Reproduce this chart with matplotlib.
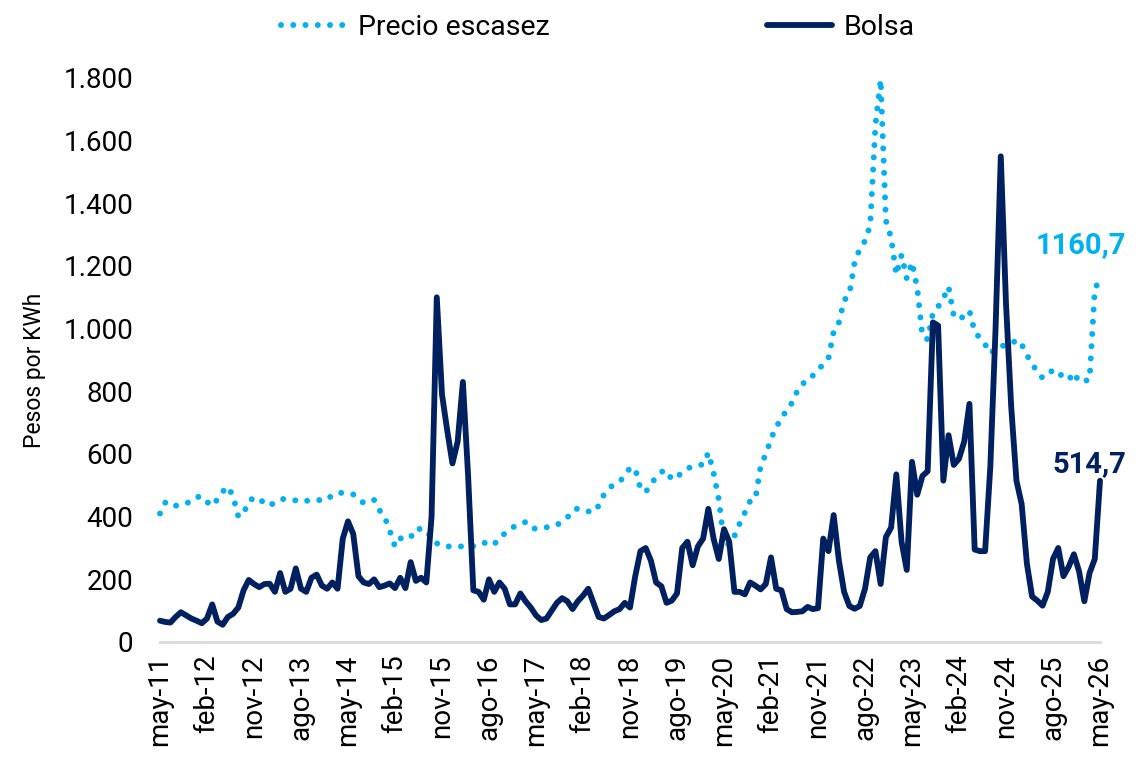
import numpy as np
import matplotlib.pyplot as plt
from matplotlib.ticker import FuncFormatter

# monthly series, may-11 .. may-26 (181 months)
start_year, start_month = 2011, 5
n_months = 181

escasez = [
    410, 445, 432, 435, 437, 443, 448, 462, 465, 447,
    434, 455, 480, 496, 465, 400, 410, 450, 460, 460,
    440, 435, 446, 455, 457, 453, 452, 447, 450, 454,
    453, 453, 453, 470, 476, 476, 474, 471, 460, 443,
    448, 453, 421, 400, 355, 305, 330, 338, 334, 362,
    360, 358, 330, 315, 306, 305, 305, 305, 305, 305,
    306, 306, 315, 323, 314, 325, 347, 360, 370, 376,
    383, 365, 361, 363, 366, 369, 373, 385, 397, 420,
    426, 420, 417, 414, 435, 470, 490, 505, 512, 530,
    556, 553, 490, 478, 505, 525, 543, 548, 518, 528,
    540, 554, 560, 565, 566, 604, 540, 455, 320, 310,
    338, 378, 413, 450, 456, 560, 600, 647, 690, 707,
    745, 762, 800, 825, 830, 850, 870, 885, 905, 990,
    1020, 1090, 1110, 1210, 1255, 1280, 1330, 1650, 1795, 1345,
    1290, 1172, 1235, 1160, 1212, 1130, 975, 966, 1050, 1070,
    1096, 1134, 1040, 1030, 1040, 1057, 990, 970, 950, 921,
    935, 945, 946, 950, 965, 950, 915, 890, 860, 843,
    850, 870, 860, 845, 836, 860, 830, 833, 837, 1125,
    1160.7,
]

bolsa = [
    68, 64, 62, 80, 95, 85, 75, 68, 60, 75,
    120, 65, 55, 80, 90, 110, 165, 198, 185, 175,
    185, 186, 160, 220, 160, 170, 235, 170, 160, 205,
    215, 180, 170, 190, 170, 330, 385, 345, 210, 190,
    185, 200, 175, 180, 187, 172, 205, 172, 255, 195,
    205, 190, 400, 1100, 790, 675, 570, 640, 830, 530,
    165, 160, 135, 200, 160, 190, 170, 120, 120, 155,
    130, 110, 85, 70, 75, 100, 125, 140, 130, 105,
    130, 148, 170, 125, 80, 75, 86, 98, 105, 125,
    110, 210, 290, 300, 260, 190, 178, 125, 132, 155,
    300, 320, 245, 305, 330, 425, 330, 265, 360, 320,
    160, 160, 152, 190, 180, 168, 185, 270, 170, 165,
    105, 95, 96, 98, 112, 105, 108, 330, 290, 405,
    260, 160, 115, 106, 115, 170, 270, 290, 185, 335,
    365, 535, 320, 230, 575, 470, 530, 545, 1020, 1010,
    515, 660, 565, 585, 640, 760, 295, 290, 290, 560,
    1000, 1550, 1080, 750, 515, 440, 250, 145, 132, 116,
    160, 265, 300, 210, 240, 280, 225, 130, 220, 265,
    514.7,
]

mes_abbr = ['ene', 'feb', 'mar', 'abr', 'may', 'jun',
            'jul', 'ago', 'sep', 'oct', 'nov', 'dic']

color_escasez = '#00B0F0'
color_bolsa = '#002060'

plt.rcParams['font.family'] = ['Roboto', 'DejaVu Sans']

x = np.arange(n_months)

fig = plt.figure(figsize=(11.47, 7.57), dpi=100)
ax = fig.add_axes([160 / 1147, 1 - 642 / 757, 940 / 1147, (642 - 78) / 757])

ax.plot(x, escasez, color=color_escasez, lw=4.3,
        linestyle=(0, (0.001, 2.05)), dash_capstyle='round',
        label='Precio escasez', clip_on=False)
ax.plot(x, bolsa, color=color_bolsa, lw=4.2,
        solid_joinstyle='round', solid_capstyle='round',
        label='Bolsa', clip_on=False)

# last values
ax.text(x[-1] + 5, escasez[-1] + 107, '1160,7', color=color_escasez,
        fontsize=21, fontweight='bold', ha='right', va='center')
ax.text(x[-1] + 5, bolsa[-1] + 52, '514,7', color=color_bolsa,
        fontsize=21, fontweight='bold', ha='right', va='center')

ax.set_xlim(0, n_months - 1)
ax.set_ylim(0, 1800)

ticks = list(range(0, n_months, 9))
labels = []
for t in ticks:
    m = start_month - 1 + t
    labels.append(f"{mes_abbr[m % 12]}-{(start_year + m // 12) % 100:02d}")
ax.set_xticks(ticks)
ax.set_xticklabels(labels, rotation=90, fontsize=20)
ax.set_yticks(range(0, 1801, 200))
ax.yaxis.set_major_formatter(FuncFormatter(lambda v, p: f"{int(v):,}".replace(',', '.')))
ax.tick_params(axis='y', length=0, labelsize=20, pad=19)
ax.tick_params(axis='x', length=0, pad=9)

for s in ['top', 'right', 'left']:
    ax.spines[s].set_visible(False)
ax.spines['bottom'].set_color('#D9D9D9')
ax.spines['bottom'].set_linewidth(2)

fig.text(35 / 1147, 1 - 370 / 757, 'Pesos por KWh', rotation=90,
         fontsize=16.5, ha='center', va='center')

fig.legend(loc='upper center', bbox_to_anchor=(598 / 1147, 1.0), ncol=2,
           frameon=False, fontsize=20.5, handlelength=2.3, handletextpad=0.4,
           columnspacing=7.6, borderaxespad=0.1)

fig.savefig('out.png', dpi=100)
